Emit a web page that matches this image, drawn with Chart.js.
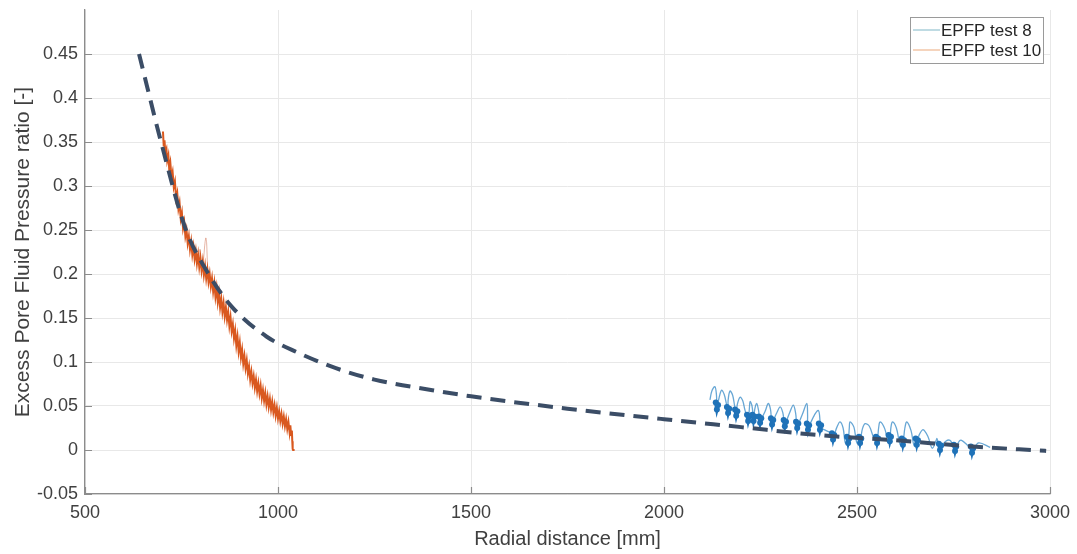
<!DOCTYPE html>
<html><head><meta charset="utf-8">
<script src="https://cdn.jsdelivr.net/npm/chart.js@4/dist/chart.umd.min.js"></script>
<style>html,body{margin:0;padding:0;background:#fff}#wrap{width:1077px;height:554px}</style>
</head><body><div id="wrap"><canvas id="c" width="1077" height="554"></canvas></div>
<script>
const xTicks = [500, 1000, 1500, 2000, 2500, 3000];
const yTicks = [-0.05, 0, 0.05, 0.1, 0.15, 0.2, 0.25, 0.3, 0.35, 0.4, 0.45];
const seriesLabels = ['EPFP test 8', 'EPFP test 10'];

// dashed trend curve
const fitR = [640,700,760,820,880,970,1050,1150,1250,1400,1500,1750,2000,2200,2400,2600,2800,2990];
const fitP = [0.450,0.345,0.252,0.200,0.163,0.129,0.111,0.093,0.080,0.068,0.061,0.047,0.035,0.026,0.017,0.011,0.004,-0.001];

// EPFP test 10 (orange)
const test10R = [702,704,706,708,711,713,716,718,721,724,727,730,733,736,739,742,745,748,751,754,757,760,763,766,769,772,775,778,781,784,787,790,793,796,799,802,805,808,811,814,817,820,823,826,829,832,835,838,841,844,847,850,853,856,859,862,865,868,871,874,877,880,883,886,889,892,895,898,901,904,907,910,913,916,919,922,925,928,931,934,937,940,943,946,949,952,955,958,961,964,967,970,973,976,979,982,985,988,991,994,997,1000,1003,1006,1009,1012,1015,1018,1021,1024,1027,1030,1032,1034,1036,1037,1038,1039,1043];
const test10P = [0.362,0.345,0.352,0.338,0.342,0.329,0.335,0.320,0.327,0.310,0.316,0.299,0.305,0.286,0.292,0.274,0.281,0.263,0.270,0.252,0.259,0.243,0.250,0.235,0.243,0.228,0.237,0.222,0.231,0.217,0.226,0.212,0.222,0.208,0.218,0.204,0.214,0.199,0.209,0.195,0.205,0.191,0.200,0.186,0.195,0.180,0.190,0.174,0.184,0.168,0.178,0.162,0.172,0.157,0.167,0.152,0.162,0.148,0.157,0.141,0.151,0.135,0.143,0.127,0.136,0.119,0.129,0.112,0.122,0.105,0.114,0.098,0.107,0.093,0.102,0.087,0.095,0.080,0.089,0.076,0.084,0.071,0.080,0.067,0.076,0.064,0.073,0.059,0.068,0.056,0.065,0.052,0.061,0.049,0.058,0.046,0.055,0.043,0.051,0.039,0.048,0.036,0.044,0.033,0.041,0.030,0.038,0.027,0.035,0.024,0.032,0.020,0.028,0.017,0.022,0.010,0.001,0.000,0.000];
const test10FaintR = [790,795,798,801,804,807,810,813,815,817,819,822];
const test10FaintP = [0.214,0.218,0.228,0.214,0.210,0.216,0.232,0.241,0.236,0.214,0.200,0.196];

// EPFP test 8 (blue)
const test8R = [2119,2124,2132,2136,2137,2142,2149,2156,2162,2166,2166,2171,2178,2183,2187,2190,2197,2204,2210,2218,2221,2223,2228,2232,2235,2240,2245,2249,2262,2270,2276,2280,2292,2301,2308,2313,2326,2335,2341,2345,2358,2370,2372,2373,2390,2400,2404,2404,2420,2430,2438,2448,2456,2464,2470,2477,2480,2482,2492,2500,2508,2514,2521,2532,2545,2552,2556,2560,2572,2580,2585,2588,2592,2602,2612,2619,2624,2629,2640,2648,2655,2662,2672,2684,2695,2706,2707,2712,2715,2730,2741,2748,2754,2765,2771,2785,2798,2815,2845];
const test8P = [0.057,0.067,0.072,0.062,0.049,0.058,0.068,0.063,0.052,0.045,0.056,0.067,0.062,0.050,0.042,0.052,0.060,0.056,0.045,0.036,0.046,0.055,0.050,0.036,0.046,0.053,0.045,0.034,0.044,0.053,0.046,0.032,0.042,0.049,0.042,0.030,0.043,0.051,0.042,0.028,0.040,0.053,0.040,0.026,0.040,0.045,0.034,0.026,0.022,0.020,0.015,0.026,0.032,0.025,0.008,0.011,0.025,0.032,0.026,0.008,0.011,0.024,0.030,0.027,0.012,0.011,0.025,0.032,0.024,0.010,0.013,0.026,0.032,0.025,0.006,0.009,0.025,0.032,0.022,0.005,0.009,0.018,0.023,0.015,0.002,0.012,0.013,0.006,0.003,0.010,0.011,0.006,0.002,0.010,0.011,0.006,0.000,0.008,0.003];
const test8ClusterR = [2134,2137,2140,2140, 2163,2166,2169,2169, 2184,2187,2190,2190, 2215,2218,2221,2221, 2229,2232,2235,2235, 2246,2249,2252,2252, 2277,2280,2283,2283, 2310,2313,2316,2316, 2342,2345,2348,2348, 2370,2373,2376,2376, 2401,2404,2407,2407, 2435,2438,2441,2441, 2474,2477,2480,2480, 2505,2508,2511,2511, 2549,2552,2555,2555, 2582,2585,2588,2588, 2616,2619,2622,2622, 2652,2655,2658,2658, 2712,2715,2718,2718, 2751,2754,2757,2757, 2795,2798,2801];
const test8ClusterP = [0.054,0.046,0.051,null, 0.049,0.042,0.047,null, 0.046,0.039,0.044,null, 0.040,0.033,0.038,null, 0.040,0.033,0.038,null, 0.038,0.031,0.036,null, 0.036,0.029,0.034,null, 0.034,0.027,0.032,null, 0.032,0.025,0.030,null, 0.030,0.023,0.028,null, 0.030,0.023,0.028,null, 0.019,0.012,0.017,null, 0.015,0.008,0.013,null, 0.015,0.008,0.013,null, 0.015,0.008,0.013,null, 0.017,0.010,0.015,null, 0.013,0.006,0.011,null, 0.013,0.006,0.011,null, 0.007,0.000,0.005,null, 0.006,-0.001,0.004,null, 0.004,-0.003,0.002];

const pts = (xs, ys) => xs.map((x, i) => ({x: x, y: ys[i]}));
const FONT = '"Liberation Sans", Arial, Helvetica, sans-serif';
const TXT = '#404040';
const AXIS = '#8c8c8c';

const inwardTicks = {
  id: 'inwardTicks',
  afterDraw(chart) {
    const {ctx, chartArea: a, scales} = chart;
    ctx.save();
    ctx.strokeStyle = AXIS;
    ctx.lineWidth = 1.2;
    ctx.beginPath();
    xTicks.forEach(v => {
      const px = Math.round(scales.x.getPixelForValue(v)) + 0.5;
      ctx.moveTo(px, a.bottom); ctx.lineTo(px, a.bottom - 7);
    });
    yTicks.forEach(v => {
      const py = Math.round(scales.y.getPixelForValue(v)) + 0.5;
      ctx.moveTo(a.left, py); ctx.lineTo(a.left + 7, py);
    });
    ctx.stroke();
    ctx.restore();
  }
};

const legendBox = {
  id: 'legendBox',
  afterDraw(chart) {
    const {ctx, chartArea: a} = chart;
    const w = 133, h = 46;
    const x0 = a.right - 7 - w, y0 = a.top + 7;
    ctx.save();
    ctx.fillStyle = '#ffffff';
    ctx.fillRect(x0, y0, w, h);
    ctx.strokeStyle = '#9a9a9a';
    ctx.lineWidth = 1;
    ctx.strokeRect(x0 + 0.5, y0 + 0.5, w, h);
    const cols = ['#9cc7d4', '#f0bd99'];
    ctx.font = '17px ' + FONT;
    ctx.textBaseline = 'middle';
    ctx.fillStyle = '#262626';
    seriesLabels.forEach((lab, i) => {
      const yy = y0 + 13 + i * 20;
      ctx.strokeStyle = cols[i];
      ctx.lineWidth = 1.3;
      ctx.beginPath(); ctx.moveTo(x0 + 3, yy); ctx.lineTo(x0 + 30, yy); ctx.stroke();
      ctx.fillText(lab, x0 + 31, yy + 1);
    });
    ctx.restore();
  }
};

new Chart(document.getElementById('c'), {
  type: 'scatter',
  data: {
    datasets: [
      {label: 'fit', data: pts(fitR, fitP), showLine: true, borderColor: '#3b4d66', borderWidth: 4,
       borderDash: [15, 9], pointRadius: 0, cubicInterpolationMode: 'monotone', order: 0},
      {label: seriesLabels[1], data: pts(test10R, test10P), showLine: true, borderColor: '#d9581f', borderWidth: 2,
       pointRadius: 0, tension: 0, order: 1},
      {label: seriesLabels[1] + ' faint', data: pts(test10FaintR, test10FaintP), showLine: true, borderColor: 'rgba(205,110,80,0.5)', borderWidth: 1,
       pointRadius: 0, tension: 0.3, order: 3},
      {label: seriesLabels[0] + ' dense', data: pts(test8ClusterR, test8ClusterP), showLine: true, borderColor: '#1f72b8', borderWidth: 3.5,
       pointRadius: 3, pointBackgroundColor: '#1f72b8', pointBorderWidth: 0, spanGaps: false, tension: 0, order: 1},
      {label: seriesLabels[0], data: pts(test8R, test8P), showLine: true, borderColor: 'rgba(40,130,195,0.7)', borderWidth: 1.3,
       pointRadius: 0, tension: 0.35, order: 2}
    ]
  },
  options: {
    responsive: false,
    animation: false,
    devicePixelRatio: 1,
    layout: {padding: {left: 0, right: 27, top: 10, bottom: 0}},
    plugins: {legend: {display: false}, tooltip: {enabled: false}},
    scales: {
      x: {
        type: 'linear', min: 500, max: 3000,
        afterBuildTicks: s => { s.ticks = xTicks.map(v => ({value: v})); },
        afterFit: s => { s.height = 60; s.paddingLeft = 0; s.paddingRight = 0; },
        ticks: {font: {family: FONT, size: 18}, color: TXT, padding: 8, maxRotation: 0,
                callback: v => String(v)},
        grid: {color: '#e8e8e8', drawTicks: false, lineWidth: 1},
        border: {color: AXIS, width: 1.3},
        title: {display: true, text: 'Radial distance [mm]', font: {family: FONT, size: 20}, color: TXT,
                padding: {top: 0, bottom: 3}}
      },
      y: {
        type: 'linear', min: -0.05, max: 0.5,
        afterBuildTicks: s => { s.ticks = yTicks.map(v => ({value: v})); },
        afterFit: s => { s.width = 85; s.paddingTop = 0; s.paddingBottom = 0; },
        ticks: {font: {family: FONT, size: 18}, color: TXT, padding: 7,
                callback: v => String(Number(v.toFixed(2)))},
        grid: {color: '#e8e8e8', drawTicks: false, lineWidth: 1},
        border: {color: AXIS, width: 1.3},
        title: {display: true, text: 'Excess Pore Fluid Pressure ratio [-]', font: {family: FONT, size: 21}, color: TXT,
                padding: {top: 11, bottom: 0}}
      }
    }
  },
  plugins: [inwardTicks, legendBox]
});
</script>
</body></html>
